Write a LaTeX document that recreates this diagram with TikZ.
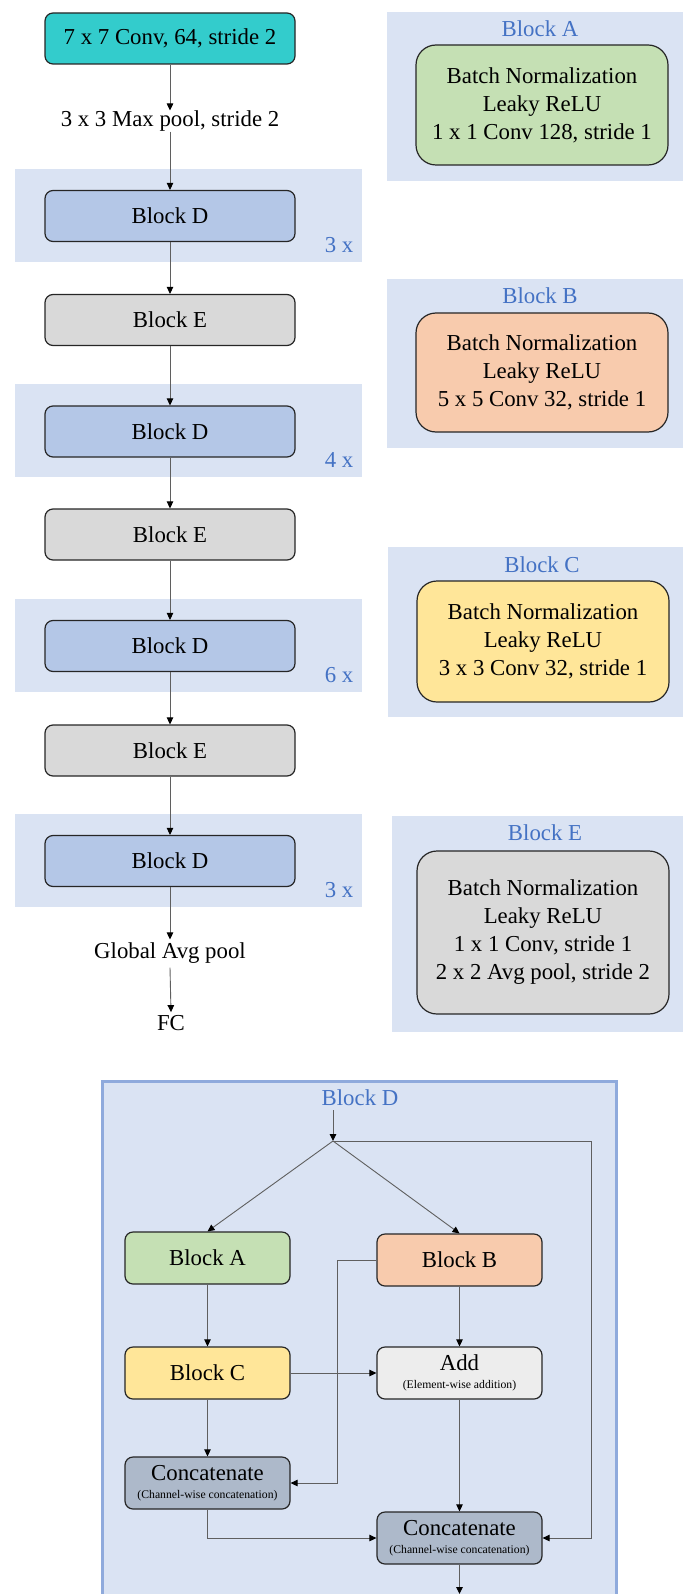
\documentclass[tikz,border=0pt]{standalone}
\usepackage{fontspec}
\setmainfont{Liberation Serif}
\usetikzlibrary{arrows.meta}
\definecolor{NetTeal}{RGB}{51,204,204}
\definecolor{NetBlue}{RGB}{180,199,231}
\definecolor{NetBand}{RGB}{218,227,243}
\definecolor{NetGray}{RGB}{217,217,217}
\definecolor{NetLightGray}{RGB}{237,237,237}
\definecolor{NetGreen}{RGB}{197,224,180}
\definecolor{NetOrange}{RGB}{248,203,173}
\definecolor{NetYellow}{RGB}{255,230,153}
\definecolor{NetSlate}{RGB}{173,185,202}
\definecolor{NetTitle}{RGB}{68,114,196}
\definecolor{NetFrame}{RGB}{143,170,220}
\definecolor{NetLine}{RGB}{38,38,38}
\definecolor{NetArrow}{RGB}{95,95,95}
\newcommand{\netfont}{\fontsize{22.8}{28}\selectfont}
\newcommand{\netsmall}{\fontsize{11.7}{13}\selectfont}
\tikzset{
  net/box/.style={
    draw=NetLine,
    line width=1.2pt,
    rounded corners=8pt,
    align=center,
    text=black,
    minimum width=250pt,
    minimum height=51pt,
    inner sep=0pt,
    font=\netfont
  },
  net/smallbox/.style={
    net/box,
    minimum width=165pt,
    minimum height=52pt
  },
  net/bigbox/.style={
    net/box,
    rounded corners=20pt,
    minimum width=252pt
  },
  net/band/.style={fill=NetBand, inner sep=0pt, minimum width=347pt, minimum height=93pt},
  net/panel/.style={fill=NetBand, inner sep=0pt},
  net/title/.style={font=\netfont, text=NetTitle, inner sep=0pt},
  net/rep/.style={font=\netfont, text=NetTitle, inner sep=0pt},
  net/label/.style={font=\netfont, text=black, inner sep=0pt},
  net/arrow/.style={-{Triangle[length=7pt,width=6.5pt,black]}, line width=0.9pt, draw=NetArrow},
  net/line/.style={line width=0.9pt, draw=NetArrow}
}
\begin{document}
\begin{tikzpicture}[x=1pt,y=-1pt]
  \useasboundingbox (0,0) rectangle (683,1594);

  % repeat bands
  \node[net/band] (band1) at (188.5,215.5) {};
  \node[net/band] (band2) at (188.5,430.5) {};
  \node[net/band] (band3) at (188.5,645.5) {};
  \node[net/band] (band4) at (188.5,860.5) {};

  % main column
  \node[net/box,fill=NetTeal] (conv) at (170,38.5) {7 x 7 Conv, 64, stride 2};
  \node[net/label] (maxpool) at (170,121) {3 x 3 Max pool, stride 2};
  \node[net/box,fill=NetBlue] (d1) at (170,216) {Block D};
  \node[net/box,fill=NetGray] (e1) at (170,320) {Block E};
  \node[net/box,fill=NetBlue] (d2) at (170,431.5) {Block D};
  \node[net/box,fill=NetGray] (e2) at (170,534.5) {Block E};
  \node[net/box,fill=NetBlue] (d3) at (170,646) {Block D};
  \node[net/box,fill=NetGray] (e3) at (170,750.5) {Block E};
  \node[net/box,fill=NetBlue] (d4) at (170,861) {Block D};
  \node[net/label] (gap) at (170,953) {Global Avg pool};
  \node[net/label] (fc) at (171,1023) {FC};

  \node[net/rep] (rep1) at (339,245) {3 x};
  \node[net/rep] (rep2) at (339,460) {4 x};
  \node[net/rep] (rep3) at (339,675) {6 x};
  \node[net/rep] (rep4) at (339,890) {3 x};

  \draw[net/arrow] (conv) -- (maxpool);
  \draw[net/arrow] (maxpool) -- (d1);
  \draw[net/arrow] (d1) -- (e1);
  \draw[net/arrow] (e1) -- (d2);
  \draw[net/arrow] (d2) -- (e2);
  \draw[net/arrow] (e2) -- (d3);
  \draw[net/arrow] (d3) -- (e3);
  \draw[net/arrow] (e3) -- (d4);
  \draw[net/arrow] (d4) -- ([yshift=3pt]gap.north);
  \draw[net/arrow] ([yshift=-4pt]gap.south) -- ([yshift=3pt]fc.north);

  % block panels
  \node[net/panel,minimum width=296pt,minimum height=169pt] (panA) at (535,96.5) {};
  \node[net/title] (titA) at (540,29) {Block A};
  \node[net/bigbox,fill=NetGreen,minimum height=120pt] (boxA) at (542,105)
    {Batch Normalization\\Leaky ReLU\\1 x 1 Conv 128, stride 1};

  \node[net/panel,minimum width=296pt,minimum height=169pt] (panB) at (535,363.5) {};
  \node[net/title] (titB) at (540,296) {Block B};
  \node[net/bigbox,fill=NetOrange,minimum height=119pt] (boxB) at (542,372.5)
    {Batch Normalization\\Leaky ReLU\\5 x 5 Conv 32, stride 1};

  \node[net/panel,minimum width=295pt,minimum height=170pt] (panC) at (535.5,632) {};
  \node[net/title] (titC) at (542,565) {Block C};
  \node[net/bigbox,fill=NetYellow,minimum height=121pt] (boxC) at (543,641.5)
    {Batch Normalization\\Leaky ReLU\\3 x 3 Conv 32, stride 1};

  \node[net/panel,minimum width=291pt,minimum height=216pt] (panE) at (537.5,924) {};
  \node[net/title] (titE) at (545,833) {Block E};
  \node[net/bigbox,fill=NetGray,minimum height=163pt] (boxE) at (543,932.5)
    {Batch Normalization\\Leaky ReLU\\1 x 1 Conv, stride 1\\2 x 2 Avg pool, stride 2};

  % block D detail
  \draw[draw=NetFrame,line width=3pt,fill=NetBand] (102.5,1081.5) rectangle (616.5,1610);
  \node[net/title] (titD) at (360,1098) {Block D};
  \coordinate (in) at (333,1110);
  \coordinate (split) at (333,1141);
  \coordinate (out) at (459.5,1594);

  \node[net/smallbox,fill=NetGreen] (blkA) at (207.5,1258) {Block A};
  \node[net/smallbox,fill=NetOrange] (blkB) at (459.5,1260) {Block B};
  \node[net/smallbox,fill=NetYellow] (blkC) at (207.5,1373) {Block C};
  \node[net/smallbox,fill=NetLightGray] (add) at (459.5,1373)
    {Add\\[-10pt]{\netsmall (Element-wise addition)}};
  \node[net/smallbox,fill=NetSlate] (cat1) at (207.5,1483)
    {Concatenate\\[-10pt]{\netsmall (Channel-wise concatenation)}};
  \node[net/smallbox,fill=NetSlate] (cat2) at (459.5,1538)
    {Concatenate\\[-10pt]{\netsmall (Channel-wise concatenation)}};

  \draw[net/arrow] (in) -- (split);
  \draw[net/arrow] (split) -- (blkA.north);
  \draw[net/arrow] (split) -- (blkB.north);
  \draw[net/arrow] (split) -- ++(258,0) |- (cat2.east);
  \draw[net/arrow] (blkA) -- (blkC);
  \draw[net/arrow] (blkB) -- (add);
  \draw[net/arrow] (blkB.west) -- ++(-39,0) |- (cat1.east);
  \draw[net/arrow] (blkC) -- (add);
  \draw[net/arrow] (blkC) -- (cat1);
  \draw[net/arrow] (add) -- (cat2);
  \draw[net/arrow] (cat1.south) |- (cat2.west);
  \draw[net/arrow] (cat2) -- (out);
\end{tikzpicture}
\end{document}
